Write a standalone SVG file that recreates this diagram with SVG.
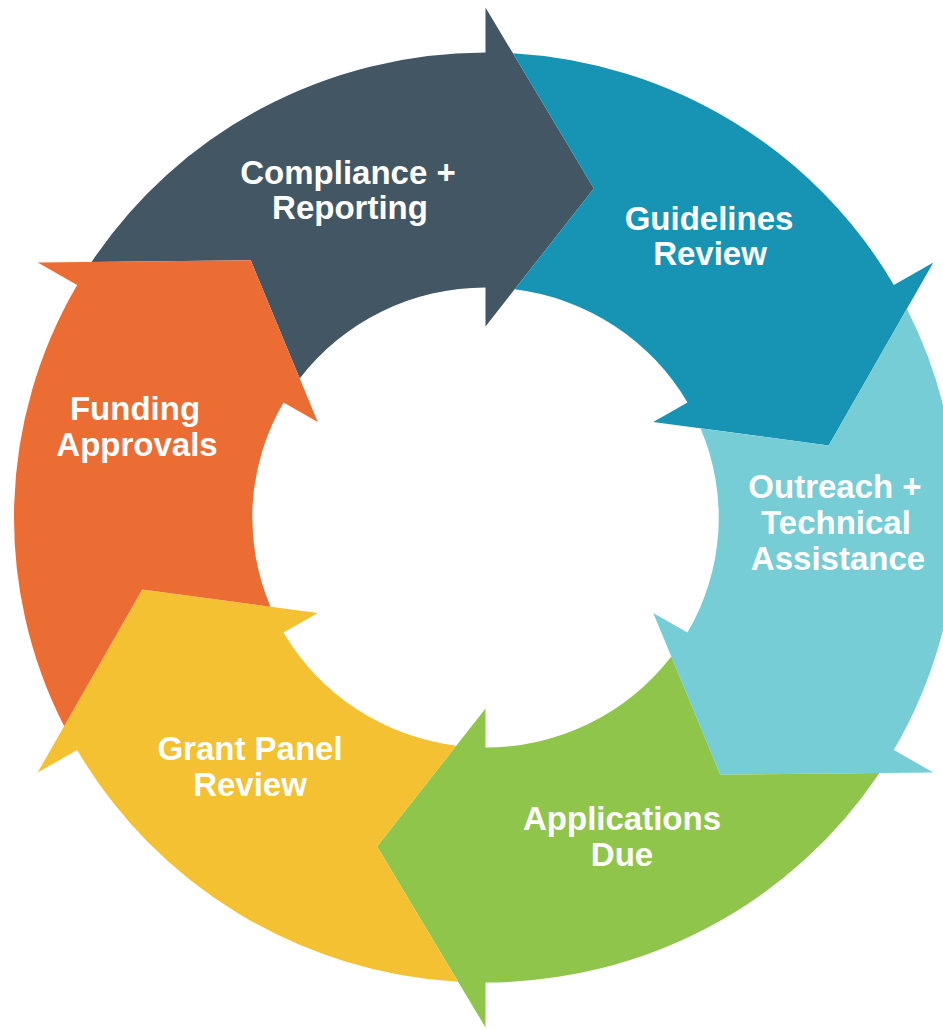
<svg xmlns="http://www.w3.org/2000/svg" xmlns:xlink="http://www.w3.org/1999/xlink" width="943" height="1029" viewBox="0 0 943 1029">
  <style>
    .lbl { font-family: "Liberation Sans", Arial, sans-serif; font-weight: bold; font-size: 33px; fill: #ffffff; text-anchor: middle; }
  </style>
  <defs>
    <path id="arrow" d="M464.21,27.06 A465,465 0 0 1 232.5,402.70 L255,441.67 L71.94,338.44 L95.5,165.41 L115,199.19 A230,230 0 0 0 228.19,28.80 L329.07,106.92 Z"/>
  </defs>
  <rect width="943" height="1029" fill="#ffffff"/>
  <g id="connectors"></g>
  <g id="compliance-reporting">
    <use href="#arrow" xlink:href="#arrow" fill="#435663" transform="translate(485.5,517.5) scale(1.014,1) rotate(-150)"/>
    <text class="lbl" x="348" y="184">Compliance +</text>
    <text class="lbl" x="350" y="219">Reporting</text>
  </g>
  <g id="guidelines-review">
    <use href="#arrow" xlink:href="#arrow" fill="#1794b4" transform="translate(485.5,517.5) scale(1.014,1) rotate(-90)"/>
    <text class="lbl" x="709" y="230">Guidelines</text>
    <text class="lbl" x="710" y="265">Review</text>
  </g>
  <g id="outreach-technical-assistance">
    <use href="#arrow" xlink:href="#arrow" fill="#77cdd6" transform="translate(485.5,517.5) scale(1.014,1) rotate(-30)"/>
    <text class="lbl" x="835" y="498">Outreach +</text>
    <text class="lbl" x="836" y="534">Technical</text>
    <text class="lbl" x="838" y="570">Assistance</text>
  </g>
  <g id="applications-due">
    <use href="#arrow" xlink:href="#arrow" fill="#8fc54a" transform="translate(485.5,517.5) scale(1.014,1) rotate(30)"/>
    <text class="lbl" x="622" y="830">Applications</text>
    <text class="lbl" x="622" y="866">Due</text>
  </g>
  <g id="grant-panel-review">
    <use href="#arrow" xlink:href="#arrow" fill="#f3c131" transform="translate(485.5,517.5) scale(1.014,1) rotate(90)"/>
    <text class="lbl" x="250" y="760">Grant Panel</text>
    <text class="lbl" x="250" y="796">Review</text>
  </g>
  <g id="funding-approvals">
    <use href="#arrow" xlink:href="#arrow" fill="#ec6d34" transform="translate(485.5,517.5) scale(1.014,1) rotate(150)"/>
    <text class="lbl" x="135" y="420">Funding</text>
    <text class="lbl" x="137" y="456">Approvals</text>
  </g>
</svg>
